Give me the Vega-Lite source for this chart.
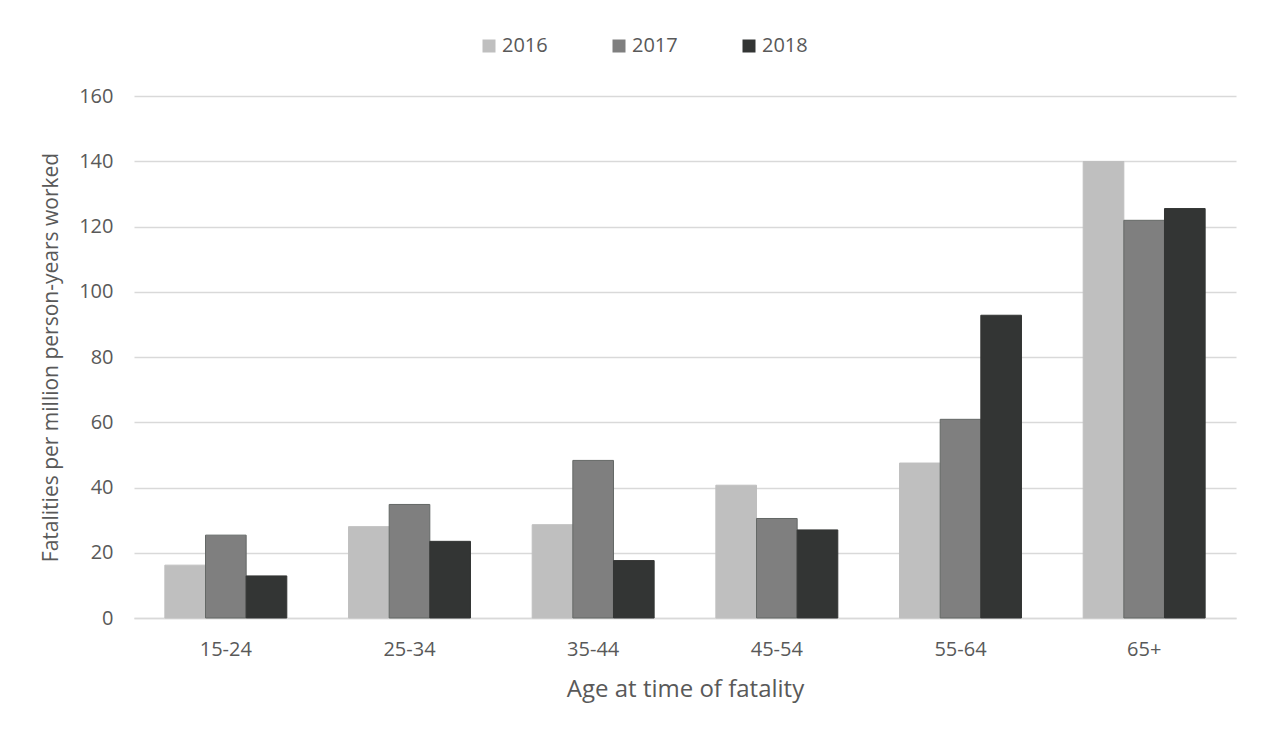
{
  "$schema": "https://vega.github.io/schema/vega-lite/v6.json",
  "autosize": {"type": "none"},
  "width": 1102,
  "height": 522,
  "padding": {"left": 134, "top": 96, "right": 33, "bottom": 114},
  "background": "white",
  "config": {
    "font": "Open Sans",
    "view": {"stroke": null},
    "axis": {"labelFont": "Open Sans", "titleFont": "Open Sans", "labelColor": "#595959", "titleColor": "#595959", "labelFontSize": 20, "titleFontSize": 24, "titleFontWeight": "normal"},
    "legend": {"labelFont": "Open Sans", "labelColor": "#595959", "labelFontSize": 20}
  },
  "data": {
    "values": [
      {"age": "15-24", "year": "2016", "rate": 16.2},
      {"age": "15-24", "year": "2017", "rate": 25.4},
      {"age": "15-24", "year": "2018", "rate": 12.9},
      {"age": "25-34", "year": "2016", "rate": 28.0},
      {"age": "25-34", "year": "2017", "rate": 34.8},
      {"age": "25-34", "year": "2018", "rate": 23.5},
      {"age": "35-44", "year": "2016", "rate": 28.6},
      {"age": "35-44", "year": "2017", "rate": 48.3},
      {"age": "35-44", "year": "2018", "rate": 17.6},
      {"age": "45-54", "year": "2016", "rate": 40.7},
      {"age": "45-54", "year": "2017", "rate": 30.5},
      {"age": "45-54", "year": "2018", "rate": 27.0},
      {"age": "55-64", "year": "2016", "rate": 47.5},
      {"age": "55-64", "year": "2017", "rate": 60.9},
      {"age": "55-64", "year": "2018", "rate": 92.8},
      {"age": "65+", "year": "2016", "rate": 139.9},
      {"age": "65+", "year": "2017", "rate": 121.9},
      {"age": "65+", "year": "2018", "rate": 125.5}
    ]
  },
  "mark": {"type": "bar", "strokeWidth": 1},
  "encoding": {
    "x": {
      "field": "age", "type": "nominal", "sort": null,
      "scale": {"paddingInner": 0.336, "paddingOuter": 0.168},
      "axis": {"title": "Age at time of fatality", "labelAngle": 0, "ticks": false, "domain": true, "domainColor": "#D9D9D9", "domainWidth": 1.3, "labelPadding": 21, "titlePadding": 18, "grid": false}
    },
    "xOffset": {"field": "year", "type": "nominal", "scale": {"paddingInner": 0, "paddingOuter": 0}},
    "y": {
      "field": "rate", "type": "quantitative",
      "scale": {"domain": [0, 160], "nice": false},
      "axis": {"title": "Fatalities per million person-years worked", "titleFontSize": 21, "values": [0, 20, 40, 60, 80, 100, 120, 140, 160], "ticks": false, "domain": false, "grid": true, "gridColor": "#D9D9D9", "gridWidth": 1.3, "labelPadding": 21, "titlePadding": 17}
    },
    "color": {
      "field": "year", "type": "nominal",
      "scale": {"domain": ["2016", "2017", "2018"], "range": ["#BFBFBF", "#7F7F7F", "#333534"]},
      "legend": {"title": null, "orient": "none", "direction": "horizontal", "legendX": 345, "legendY": -60, "symbolType": "square", "symbolSize": 169, "symbolStrokeWidth": 0, "labelOffset": 3, "columnPadding": 61}
    },
    "stroke": {
      "field": "year", "type": "nominal",
      "scale": {"domain": ["2016", "2017", "2018"], "range": ["#BFBFBF", "#646866", "#333534"]},
      "legend": null
    }
  }
}
